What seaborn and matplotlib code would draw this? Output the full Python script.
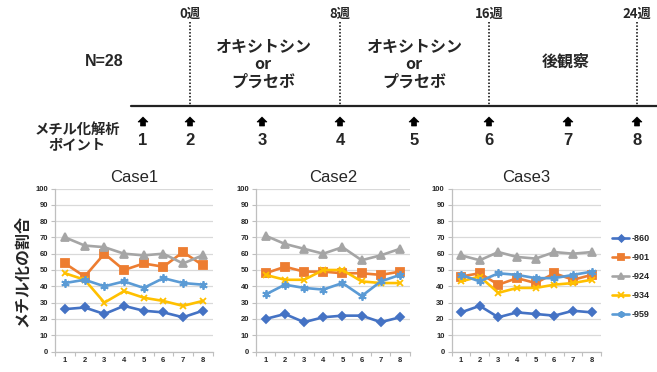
import matplotlib
matplotlib.use("Agg")
import matplotlib.pyplot as plt
import seaborn as sns
import pandas as pd
import numpy as np
from matplotlib.ticker import MultipleLocator, FixedLocator
from matplotlib.patches import Polygon

# ---------------- data ----------------
points = [1, 2, 3, 4, 5, 6, 7, 8]
series_names = ["-860", "-901", "-924", "-934", "-959"]
case_titles = ["Case1", "Case2", "Case3"]

case1_860 = [26, 27, 23, 28, 25, 24, 21, 25]
case1_901 = [54, 46, 60, 50, 54, 52, 61, 53]
case1_924 = [70, 65, 64, 60, 59, 60, 54, 59]
case1_934 = [48, 44, 30, 37, 33, 31, 28, 31]
case1_959 = [42, 44, 40, 43, 39, 45, 42, 41]

case2_860 = [20, 23, 18, 21, 22, 22, 18, 21]
case2_901 = [48, 52, 49, 49, 48, 48, 47, 49]
case2_924 = [71, 66, 63, 60, 64, 56, 59, 63]
case2_934 = [47, 44, 44, 50, 50, 43, 42, 42]
case2_959 = [35, 41, 39, 38, 42, 34, 43, 47]

case3_860 = [24, 28, 21, 24, 23, 22, 25, 24]
case3_901 = [46, 48, 41, 45, 42, 48, 44, 47]
case3_924 = [59, 56, 61, 58, 57, 61, 60, 61]
case3_934 = [43, 46, 36, 39, 39, 41, 42, 44]
case3_959 = [47, 43, 48, 47, 45, 45, 47, 49]

timeline_points = ["1", "2", "3", "4", "5", "6", "7", "8"]
week_labels = ["0週", "8週", "16週", "24週"]
phase_labels = ["オキシトシン\nor\nプラセボ", "オキシトシン\nor\nプラセボ", "後観察"]

cases = [
    [case1_860, case1_901, case1_924, case1_934, case1_959],
    [case2_860, case2_901, case2_924, case2_934, case2_959],
    [case3_860, case3_901, case3_924, case3_934, case3_959],
]

# ---------------- style ----------------
sns.set_style("white")
plt.rcParams["font.family"] = ["Noto Sans CJK JP", "DejaVu Sans"]
JP = ["Noto Sans CJK JP", "DejaVu Sans"]
LAT = ["Liberation Sans", "DejaVu Sans"]

colors = ["#4472C4", "#ED7D31", "#A5A5A5", "#FFC000", "#5B9BD5"]
markers = ["D", "s", "^", "x", (6, 2, 0)]
msizes = [4.2, 5.5, 5.5, 5.0, 6.0]

W, H = 657, 372
fig = plt.figure(figsize=(W / 100, H / 100), dpi=100)

# ---------------- timeline (top) ----------------
ax0 = fig.add_axes([0, 0, 1, 1])
ax0.set_xlim(0, W)
ax0.set_ylim(H, 0)
ax0.axis("off")

ax0.plot([131, W], [105.5, 105.5], color="#222222", lw=1.6)
week_x = [190, 340, 489, 637]
for x, lab in zip(week_x, week_labels):
    ax0.plot([x, x], [22, 105], color="black", lw=1.1, ls=(0, (1, 1.2)))
    ax0.text(x, 14, lab, ha="center", va="center", fontsize=9.5,
             fontweight="bold", family=JP)

ax0.text(104, 62, "N=28", ha="center", va="center", fontsize=11.5,
         fontweight="bold", family=LAT)
phase_x = [263, 414, 566]
phase_y = [64, 64, 62]
for x, y, lab in zip(phase_x, phase_y, phase_labels):
    ax0.text(x, y, lab, ha="center", va="center", fontsize=11.5,
             fontweight="bold", family=JP, linespacing=1.15)

ax0.text(77, 137.5, "メチル化解析\nポイント", ha="center", va="center",
         fontsize=10.3, fontweight="bold", family=JP, linespacing=1.15)

arrow_x = [143, 190, 262, 340, 414, 489, 568, 637]
for x, lab in zip(arrow_x, timeline_points):
    arrow = Polygon([(x, 117), (x + 5, 122), (x + 2.5, 122), (x + 2.5, 126),
                     (x - 2.5, 126), (x - 2.5, 122), (x - 5, 122)],
                    closed=True, facecolor="black", edgecolor="black", lw=0.5)
    ax0.add_patch(arrow)
    ax0.text(x, 140.5, lab, ha="center", va="center", fontsize=12,
             fontweight="bold", family=LAT)

# y label
fig.text(22 / W, 1 - 271 / H, "メチル化の割合", rotation=90, ha="center",
         va="center", fontsize=11.5, fontweight="bold", family=JP)

# ---------------- panels ----------------
panel_px = [(55.2, 212.5), (256.1, 409.6), (451.7, 601.0)]
top_px, bot_px = 188.5, 351.5

axes = []
for (l, r), title, vals in zip(panel_px, case_titles, cases):
    ax = fig.add_axes([l / W, 1 - bot_px / H, (r - l) / W, (bot_px - top_px) / H])
    ax.set_facecolor("none")
    for name, v, c, m, ms in zip(series_names, vals, colors, markers, msizes):
        df = pd.DataFrame({"point": points, "value": v})
        sns.lineplot(data=df, x="point", y="value", ax=ax, color=c,
                     marker=m, markersize=ms, markeredgecolor=c,
                     markerfacecolor=c, markeredgewidth=1.3,
                     linewidth=1.9, label=name, legend=False)
    ax.set_xlim(0.5, 8.5)
    ax.set_ylim(0, 100)
    ax.yaxis.set_major_locator(MultipleLocator(10))
    ax.xaxis.set_major_locator(FixedLocator(points))
    ax.xaxis.set_minor_locator(FixedLocator(np.arange(0.5, 9, 1)))
    ax.grid(axis="y", color="#D9D9D9", lw=0.9)
    ax.grid(axis="x", visible=False)
    ax.set_axisbelow(True)
    for s in ["top", "right"]:
        ax.spines[s].set_visible(False)
    for s in ["left", "bottom"]:
        ax.spines[s].set_color("#BFBFBF")
        ax.spines[s].set_linewidth(0.9)
    ax.tick_params(axis="y", which="major", length=3, width=0.8,
                   color="#BFBFBF", pad=2, left=True)
    ax.tick_params(axis="x", which="major", length=0, pad=4, bottom=True)
    ax.tick_params(axis="x", which="minor", length=3, width=0.8,
                   color="#BFBFBF", bottom=True)
    ax.set_xticklabels(timeline_points)
    for lab in ax.get_xticklabels() + ax.get_yticklabels():
        lab.set_fontsize(5.5)
        lab.set_fontweight("bold")
        lab.set_family(LAT)
    ax.set_xlabel("")
    ax.set_ylabel("")
    ax.set_title(title, fontsize=12, family=LAT, pad=5)
    axes.append(ax)

handles, labels = axes[2].get_legend_handles_labels()
fig.legend(handles, labels, loc="upper left",
           bbox_to_anchor=(612 / W, 1 - 234 / H), frameon=False,
           prop=dict(family=LAT, size=6.5, weight="bold"),
           handlelength=1.9, handletextpad=0.25, labelspacing=1.12,
           borderaxespad=0, borderpad=0, markerscale=0.8)

fig.savefig("out.png", dpi=100)
